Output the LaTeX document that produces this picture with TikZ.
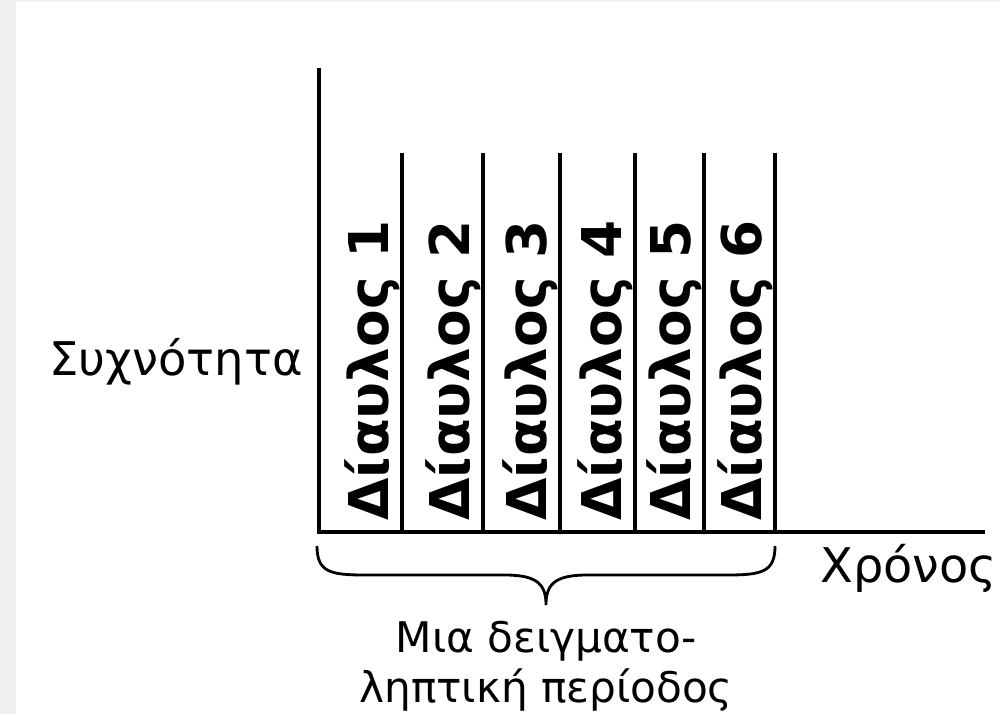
\documentclass[tikz,border=0pt]{standalone}
\usepackage{fontspec}
\setmainfont{DejaVu Sans}
\usetikzlibrary{positioning}

\begin{document}
\begin{tikzpicture}[x=0.025cm, y=-0.025cm, font=\fontsize{30}{35}\selectfont]
  \tikzset{
    axis/.style={line width=2.8pt},
    divider/.style={line width=2.4pt},
    chan/.style={rotate=90, anchor=base west, inner sep=0pt,
      font=\fontsize{39}{42}\selectfont\bfseries},
    lbl/.style={inner sep=0pt}
  }
  \useasboundingbox (0,0) rectangle (1003,714);
  \fill[white] (0,0) rectangle (1003,714);
  \fill[black!6] (0,0) rectangle (16,714);
  \fill[black!6] (16,0) rectangle (1000,2);
  \coordinate (O) at (319,532);  % origin
  \coordinate (Y) at (319,68);   % top of frequency axis
  \coordinate (X) at (985,532);  % end of time axis
  \draw[axis] (Y) -- (O) -- (X);
  % channel dividers and labels
  \foreach \i/\xr in {1/402, 2/483, 3/560, 4/635, 5/704, 6/775} {
    \coordinate (top\i) at (\xr,153);
    \coordinate (bot\i) at (\xr,532);
    \draw[divider] (top\i) -- (bot\i);
    \node[chan] (ch\i) at (\xr-14,521) {Δίαυλος \i};
  }
  % brace under the channels
  \coordinate (bl) at (317,546);
  \coordinate (br) at (775,546);
  \coordinate (tip) at (546,605);
  \draw[line width=2pt] (bl) .. controls (317,572) and (330,575) .. (365,575)
    -- (505,575) .. controls (538,575) and (546,585) .. (tip)
    .. controls (546,585) and (554,575) .. (587,575)
    -- (727,575) .. controls (762,575) and (775,572) .. (br);
  % axis labels
  \node[lbl, anchor=base east, font=\fontsize{33}{38}\selectfont] (freq) at (303,375) {Συχνότητα};
  \node[lbl, anchor=base west, font=\fontsize{34}{38}\selectfont] (time) at (820,582) {Χρόνος};
  \node[lbl, align=center, anchor=base] (period) at (546,702)
    {Μια δειγματο-\\ληπτική περίοδος};
\end{tikzpicture}
\end{document}
